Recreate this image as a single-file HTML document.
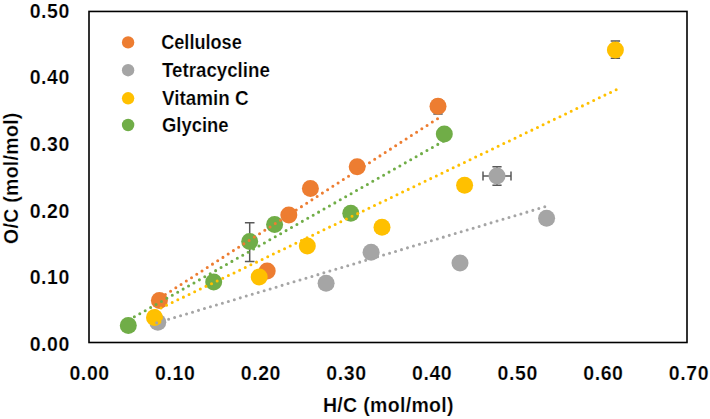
<!DOCTYPE html>
<html><head><meta charset="utf-8"><style>
html,body{margin:0;padding:0;background:#fff;width:710px;height:419px;overflow:hidden}
svg{display:block}
.t{font-family:"Liberation Sans",sans-serif;font-weight:bold;fill:#000;stroke:#fff;stroke-width:0.2px}
</style></head><body>
<svg width="710" height="419" viewBox="0 0 710 419">
<rect width="710" height="419" fill="#fff"/>
<rect x="89.0" y="11.45" width="598.0" height="331.05" fill="none" stroke="#000" stroke-width="1.6"/>
<text id="y0" transform="translate(70.00,350.80)" font-size="19.5" letter-spacing="0.6" text-anchor="end" class="t">0.00</text>
<text id="y1" transform="translate(70.00,284.20)" font-size="19.5" letter-spacing="0.6" text-anchor="end" class="t">0.10</text>
<text id="y2" transform="translate(70.00,217.60)" font-size="19.5" letter-spacing="0.6" text-anchor="end" class="t">0.20</text>
<text id="y3" transform="translate(70.00,151.00)" font-size="19.5" letter-spacing="0.6" text-anchor="end" class="t">0.30</text>
<text id="y4" transform="translate(70.00,84.40)" font-size="19.5" letter-spacing="0.6" text-anchor="end" class="t">0.40</text>
<text id="y5" transform="translate(70.00,17.80)" font-size="19.5" letter-spacing="0.6" text-anchor="end" class="t">0.50</text>
<text id="x0" transform="translate(89.60,379.60)" font-size="19.5" letter-spacing="0.6" text-anchor="middle" class="t">0.00</text>
<text id="x1" transform="translate(175.23,379.60)" font-size="19.5" letter-spacing="0.6" text-anchor="middle" class="t">0.10</text>
<text id="x2" transform="translate(260.86,379.60)" font-size="19.5" letter-spacing="0.6" text-anchor="middle" class="t">0.20</text>
<text id="x3" transform="translate(346.49,379.60)" font-size="19.5" letter-spacing="0.6" text-anchor="middle" class="t">0.30</text>
<text id="x4" transform="translate(432.12,379.60)" font-size="19.5" letter-spacing="0.6" text-anchor="middle" class="t">0.40</text>
<text id="x5" transform="translate(517.75,379.60)" font-size="19.5" letter-spacing="0.6" text-anchor="middle" class="t">0.50</text>
<text id="x6" transform="translate(603.38,379.60)" font-size="19.5" letter-spacing="0.6" text-anchor="middle" class="t">0.60</text>
<text id="x7" transform="translate(689.01,379.60)" font-size="19.5" letter-spacing="0.6" text-anchor="middle" class="t">0.70</text>
<text id="xt" transform="translate(388.40,412.30)" font-size="19.5" letter-spacing="0.33" text-anchor="middle" class="t">H/C (mol/mol)</text>
<text id="yt" transform="translate(17.90,178.20) rotate(-90)" font-size="19.5" letter-spacing="0.3" text-anchor="middle" class="t">O/C (mol/mol)</text>
<path d="M438,99.9V113.9M433.3,99.9H442.7M433.3,113.9H442.7" stroke="#595959" stroke-width="1.5" fill="none"/>
<circle cx="159.4" cy="300.4" r="8.5" fill="#ED7D31"/>
<circle cx="267.2" cy="271" r="8.5" fill="#ED7D31"/>
<circle cx="288.8" cy="215" r="8.5" fill="#ED7D31"/>
<circle cx="310.4" cy="188.5" r="8.5" fill="#ED7D31"/>
<circle cx="357.2" cy="166.8" r="8.5" fill="#ED7D31"/>
<circle cx="438" cy="106.2" r="8.5" fill="#ED7D31"/>
<path d="M497,166.8V185.2M492.4,166.8H501.6M492.4,185.2H501.6" stroke="#595959" stroke-width="1.5" fill="none"/>
<path d="M483,176H511M483,171.4V180.6M511,171.4V180.6" stroke="#595959" stroke-width="1.5" fill="none"/>
<circle cx="157.8" cy="322.3" r="8.5" fill="#A5A5A5"/>
<circle cx="326.1" cy="283.3" r="8.5" fill="#A5A5A5"/>
<circle cx="371.1" cy="252.3" r="8.5" fill="#A5A5A5"/>
<circle cx="460" cy="263" r="8.5" fill="#A5A5A5"/>
<circle cx="497" cy="175.9" r="8.5" fill="#A5A5A5"/>
<circle cx="546.6" cy="218.2" r="8.5" fill="#A5A5A5"/>
<path d="M615.4,41.1V58.300000000000004M610.6999999999999,41.1H620.1M610.6999999999999,58.300000000000004H620.1" stroke="#595959" stroke-width="1.5" fill="none"/>
<circle cx="154.5" cy="317.6" r="8.5" fill="#FFC000"/>
<circle cx="259.2" cy="277" r="8.5" fill="#FFC000"/>
<circle cx="307.3" cy="246.1" r="8.5" fill="#FFC000"/>
<circle cx="382" cy="227.3" r="8.5" fill="#FFC000"/>
<circle cx="464.6" cy="185.3" r="8.5" fill="#FFC000"/>
<circle cx="615.4" cy="50" r="8.5" fill="#FFC000"/>
<path d="M249.7,222.79999999999998V261.59999999999997M244.89999999999998,222.79999999999998H254.5M244.89999999999998,261.59999999999997H254.5" stroke="#595959" stroke-width="1.5" fill="none"/>
<circle cx="128.3" cy="325.5" r="8.5" fill="#70AD47"/>
<circle cx="213.7" cy="281.9" r="8.5" fill="#70AD47"/>
<circle cx="249.7" cy="241.6" r="8.5" fill="#70AD47"/>
<circle cx="274.6" cy="224.4" r="8.5" fill="#70AD47"/>
<circle cx="350.8" cy="213.2" r="8.5" fill="#70AD47"/>
<circle cx="444.3" cy="134.1" r="8.5" fill="#70AD47"/>
<line x1="159.4" y1="298.45" x2="438" y2="118.38" stroke="#ED7D31" stroke-width="3.05" stroke-linecap="round" stroke-dasharray="0 6.232" stroke-dashoffset="-0.87"/>
<line x1="156.7" y1="322.87" x2="546.6" y2="206.24" stroke="#A5A5A5" stroke-width="3.05" stroke-linecap="round" stroke-dasharray="0 6.232" stroke-dashoffset="0"/>
<line x1="154.5" y1="311.02" x2="616.6" y2="89.50196" stroke="#FFC000" stroke-width="3.05" stroke-linecap="round" stroke-dasharray="0 6.232" stroke-dashoffset="-0.93"/>
<line x1="128.3" y1="320.26" x2="444.3" y2="140.7" stroke="#70AD47" stroke-width="3.05" stroke-linecap="round" stroke-dasharray="0 6.232" stroke-dashoffset="-0.74"/>
<circle cx="128.1" cy="42.4" r="6.2" fill="#ED7D31"/>
<text id="l0" transform="translate(161.20,49.00) scale(0.9300,1)" font-size="19.5" text-anchor="start" class="t">Cellulose</text>
<circle cx="128.1" cy="70.2" r="6.2" fill="#A5A5A5"/>
<text id="l1" transform="translate(162.00,77.00) scale(0.9600,1)" font-size="19.5" text-anchor="start" class="t">Tetracycline</text>
<circle cx="128.1" cy="98.3" r="6.2" fill="#FFC000"/>
<text id="l2" transform="translate(162.00,105.10) scale(0.9670,1)" font-size="19.5" text-anchor="start" class="t">Vitamin C</text>
<circle cx="128.1" cy="125.0" r="6.2" fill="#70AD47"/>
<text id="l3" transform="translate(162.00,131.80) scale(0.9450,1)" font-size="19.5" text-anchor="start" class="t">Glycine</text>
</svg>
</body></html>
